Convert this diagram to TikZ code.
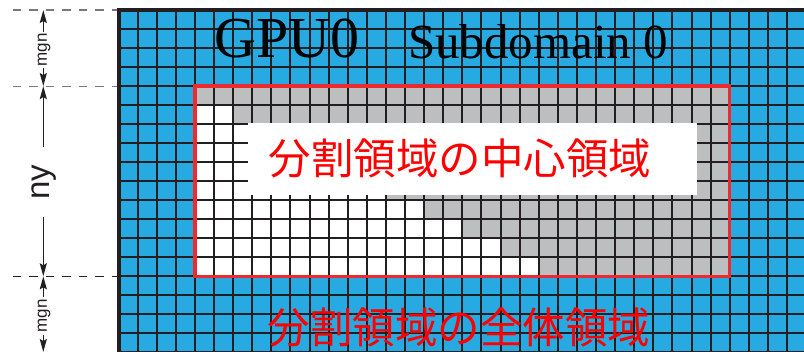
\documentclass[tikz,border=0pt]{standalone}
\usepackage{fontspec}
\setmainfont{Liberation Serif}
\newfontfamily\labelsans{Liberation Sans}
\newfontfamily\jpfont{Noto Sans CJK JP}
\usetikzlibrary{arrows.meta}
\definecolor{cellblue}{RGB}{39,170,225}
\definecolor{cellgrey}{RGB}{188,190,192}
\definecolor{gridline}{RGB}{35,31,32}
\definecolor{boxred}{RGB}{237,42,46}
\definecolor{textred}{RGB}{255,0,0}
\definecolor{dashgrey}{RGB}{120,120,120}
\tikzset{
  gridln/.style={gridline, line width=2pt},
  dashln/.style={line width=1.1pt, dash pattern=on 8.5pt off 8pt},
  dimarrow/.style={gridline, line width=1.6pt, -{Stealth[length=13pt,width=7pt,inset=2pt]}},
  sidelabel/.style={text=gridline, rotate=90, inner ysep=0pt},
}
\begin{document}
\begin{tikzpicture}[x=1pt,y=-1pt]
\useasboundingbox (0,0) rectangle (804,352);
\begin{scope}
\clip (0,0) rectangle (804,352);
\fill[cellblue] (118.5,10) rectangle (807,353);
\fill[cellgrey] (194.9,86.1) rectangle (729.7,276.3);
\foreach \rw in {1,...,9} {
  \fill[white] (194.9,{86.1+\rw*19.02}) rectangle ({194.9+2*\rw*19.1},{86.1+(\rw+1)*19.02});
}
\foreach \i in {0,...,36} \draw[gridln] ({118.5+\i*19.1},10) -- ({118.5+\i*19.1},353);
\foreach \j in {0,...,18} \draw[gridln] (118.5,{10+\j*19.02}) -- (807,{10+\j*19.02});
\draw[gridline, line width=3.5pt] (118.8,353) -- (118.8,10) -- (807,10);
\end{scope}

% label box and red frame
\node[fill=white, inner sep=0pt, minimum width=448.4pt, minimum height=72.3pt] (labelbox) at (472.5,158.85) {};
\node[draw=boxred, line width=3.2pt, inner sep=0pt, minimum width=534.8pt, minimum height=190.2pt] (centerbox) at (462.3,181.2) {};

% texts
\node[anchor=base west, inner sep=0pt, font=\fontsize{58}{58}\selectfont] (gpu) at (214,58) {GPU0};
\node[anchor=base west, inner sep=0pt, font=\fontsize{49}{49}\selectfont] (subdom) at (408,59) {Subdomain 0};
\node[inner sep=0pt, text=textred, font=\jpfont\fontsize{42.5}{42.5}\selectfont] (centertext) at (460,158) {分割領域の中心領域};
\node[inner sep=0pt, text=textred, font=\jpfont\fontsize{42.5}{42.5}\selectfont] (wholetext) at (459,327) {分割領域の全体領域};

% dashed guide lines
\coordinate (dA) at (12.5,10);   \coordinate (gA) at (117,10);
\coordinate (dB) at (12.5,86.1); \coordinate (gB) at (117,86.1);
\coordinate (dC) at (12.5,276.3);\coordinate (gC) at (117,276.3);
\coordinate (dD) at (43.3,352);
\draw[dashln, dashgrey] (dA) -- (gA);
\draw[dashln, dashgrey] (dB) -- (gB);
\draw[dashln, gridline] (dC) -- (gC);

% dimension labels and arrows
\node[sidelabel, inner xsep=1.5pt, font=\labelsans\fontsize{17}{17}\selectfont] (mgnTop) at (44,50) {mgn};
\node[sidelabel, inner xsep=17pt, font=\labelsans\fontsize{33}{33}\selectfont] (nyLab) at (44,182) {ny};
\node[sidelabel, inner xsep=2.5pt, font=\labelsans\fontsize{17}{17}\selectfont] (mgnBot) at (44,316) {mgn};
\coordinate (tA) at (43.3,10);
\coordinate (tB) at (43.3,86.1);
\coordinate (tC) at (43.3,276.3);
\draw[dimarrow] (mgnTop.east -| tA) -- (tA);
\draw[dimarrow] (mgnTop.west -| tA) -- (tB);
\draw[dimarrow] (nyLab.east -| tA) -- (tB);
\draw[dimarrow] (nyLab.west -| tA) -- (tC);
\draw[dimarrow] (mgnBot.east -| tA) -- (tC);
\draw[dimarrow] (mgnBot.west -| tA) -- (dD);
\end{tikzpicture}
\end{document}
